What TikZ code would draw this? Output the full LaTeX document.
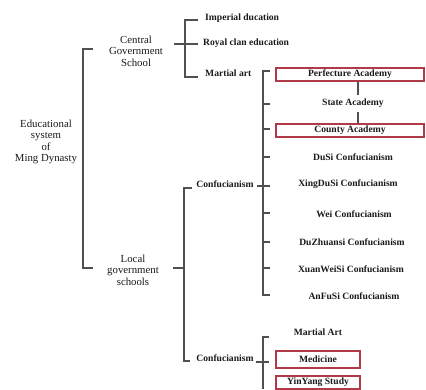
\documentclass[tikz,border=0pt]{standalone}
\usepackage{fontspec}
\setmainfont{Liberation Serif}
\definecolor{ln}{HTML}{505050}
\definecolor{bx}{HTML}{B03A48}
\definecolor{tx}{HTML}{1A1A1A}
\tikzset{
  lbl/.style={font=\fontsize{10.8}{11.6}\selectfont, text=tx, align=center, inner sep=0pt},
  itm/.style={lbl, font=\fontsize{9.6}{11.4}\selectfont\bfseries},
  brk/.style={draw=ln, line width=1.1pt},
  rbox/.style={draw=bx, line width=1.2pt, fill=white, inner sep=0pt},
}
\begin{document}
\begin{tikzpicture}[x=1pt,y=-1pt]
\useasboundingbox (0,0) rectangle (426,389);
% level 0 / 1 labels
\node[lbl] (edu) at (46,142) {Educational\\system\\of\\Ming Dynasty};
\node[lbl] (cgs) at (136,51) {Central\\Government\\School};
\node[lbl] (lgs) at (133,270) {Local\\government\\schools};
% central children
\node[itm, anchor=west] (imp) at (205,18) {Imperial ducation};
\node[itm, anchor=west] (roy) at (203,43) {Royal clan education};
\node[itm, anchor=west] (mar) at (205,73) {Martial art};
% local children
\node[itm] (con1) at (225,184) {Confucianism};
\node[itm] (con2) at (225,358) {Confucianism};
% confucianism 1 children
\node[itm, rbox, minimum width=148pt, minimum height=13pt] (perf) at (350,74.5) {Perfecture Academy};
\node[itm] (state) at (353,103) {State Academy};
\node[itm, rbox, minimum width=148pt, minimum height=13pt] (county) at (350,130.5) {County Academy};
\node[itm] (dusi) at (353,157) {DuSi Confucianism};
\node[itm] (xing) at (348,184) {XingDuSi Confucianism};
\node[itm] (wei) at (354,214) {Wei Confucianism};
\node[itm] (duz) at (352,242) {DuZhuansi Confucianism};
\node[itm] (xuan) at (351,269) {XuanWeiSi Confucianism};
\node[itm] (anfu) at (354,296) {AnFuSi Confucianism};
% confucianism 2 children
\node[itm] (mart2) at (318,332) {Martial Art};
\node[itm, rbox, minimum width=84pt, minimum height=17pt] (med) at (318,359.5) {Medicine};
\node[itm, rbox, minimum width=84pt, minimum height=13pt] (yin) at (318,382.5) {YinYang Study};
% connectors between academies
\draw[brk] (perf.south -| 358,0) -- (358,95);
\draw[brk] (358,112) -- (county.north -| 358,0);
% bracket: educational system
\coordinate (b0t) at (83,49);
\coordinate (b0b) at (83,268);
\draw[brk] (93,49) -- (b0t) -- (b0b) -- (93,268);
% bracket: central
\coordinate (b1t) at (185,20);
\coordinate (b1b) at (185,77);
\draw[brk] (198,20) -- (b1t) -- (b1b) -- (198,77);
\draw[brk] (174,44) -- (198,44);
% bracket: local
\coordinate (b2t) at (184,188);
\coordinate (b2b) at (184,361);
\draw[brk] (192,188) -- (b2t) -- (b2b) -- (190,361);
\draw[brk] (173,268) -- (184,268);
% bracket: confucianism 1
\coordinate (b3t) at (263,71);
\coordinate (b3b) at (263,295);
\draw[brk] (270,71) -- (b3t) -- (b3b) -- (270,295);
\foreach \yy in {104,129,157,213,242,268}
  \draw[brk] (263,\yy) -- (270,\yy);
\draw[brk] (257,186) -- (270,186);
% bracket: confucianism 2
\coordinate (b4t) at (263,337);
\coordinate (b4b) at (263,389);
\draw[brk] (269,337) -- (b4t) -- (b4b);
\draw[brk] (256,362) -- (269,362);
\end{tikzpicture}
\end{document}
